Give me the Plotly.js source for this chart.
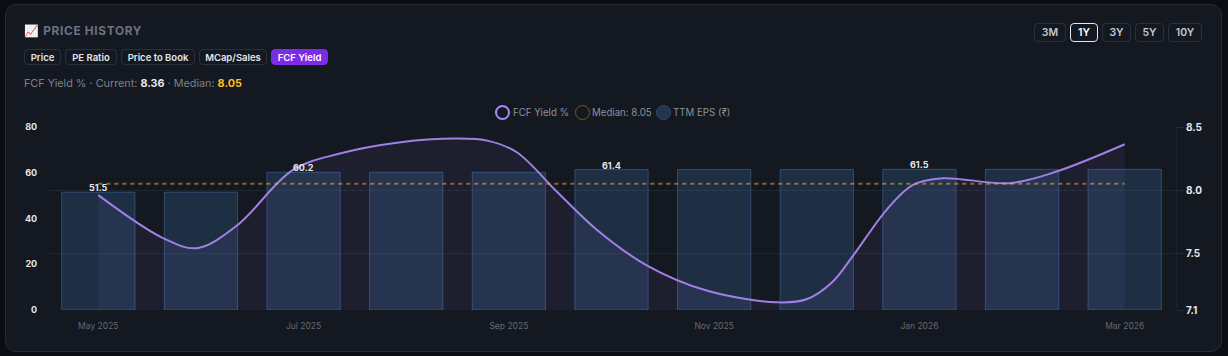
<!DOCTYPE html>
<html>
<head>
<meta charset="utf-8">
<script src="https://cdn.plot.ly/plotly-3.0.1.min.js"></script>
<style>
html,body{margin:0;padding:0;background:#0b0d14;width:1228px;height:356px;overflow:hidden;font-family:Inter,"Noto Sans",sans-serif;}
#card{position:absolute;left:5px;top:4px;width:1215px;height:346px;background:#141820;border:1px solid #262b36;border-radius:11px;}
#chart{position:absolute;left:0;top:0;width:1228px;height:356px;}
.t{position:absolute;white-space:nowrap;line-height:1;}
.btn{position:absolute;box-sizing:border-box;display:flex;align-items:center;justify-content:center;border:1px solid #2b303b;border-radius:4px;color:#e5e7eb;font-weight:600;white-space:nowrap;}
.tab{top:49px;height:16px;font-size:9.5px;}
.rng{top:23px;height:19px;font-size:10.5px;color:#c3c7cf;}
.dot{position:absolute;box-sizing:border-box;border-radius:50%;width:15px;height:15px;top:105px;}
.lg{position:absolute;top:107px;font-size:9.7px;line-height:11px;color:#8b919c;white-space:nowrap;}
</style>
</head>
<body>
<div id="card"></div>
<div id="chart"></div>
<div class="t" style="left:24px;top:26px;font-size:11.8px;font-weight:700;letter-spacing:.7px;color:#6b7280;">📈 PRICE HISTORY</div>
<div id="tabs"></div>
<div class="t" style="left:24px;top:78.5px;font-size:10.8px;color:#7b818c;">FCF Yield % · Current: <b style="color:#e5e7eb">8.36</b> · Median: <b style="color:#fbbf24">8.05</b></div>
<div id="ranges"></div>
<div class="dot" style="left:495px;border:2px solid #a78bfa"></div>
<div class="lg" style="left:513px">FCF Yield %</div>
<div class="dot" style="left:574.5px;border:1.5px solid #7a5c22"></div>
<div class="lg" style="left:592px">Median: 8.05</div>
<div class="dot" style="left:655.5px;border:1.5px solid #2f4a6e;background:#233650"></div>
<div class="lg" style="left:673px">TTM EPS (₹)</div>
<script>
const monthIndex = [0,1,2,3,4,5,6,7,8,9,10];
const epsValues = [51.5,51.5,60.2,60.2,60.2,61.4,61.4,61.4,61.5,61.5,61.5];
const epsLabels = ['51.5','','60.2','','','61.4','','','61.5','',''];
const xTickVals = [0,2,4,6,8,10];
const xTickText = ['May 2025','Jul 2025','Sep 2025','Nov 2025','Jan 2026','Mar 2026'];
const yieldX = [0,.63,.961,1.351,1.896,2.353,2.908,3.492,3.8,4.077,4.466,4.856,5.343,5.927,6.609,6.9,7.15,7.349,7.68,7.933,8.226,8.878,9.336,10];
const yieldY = [7.96,7.62,7.54,7.72,8.16,8.29,8.376,8.408,8.39,8.30,7.989,7.686,7.404,7.204,7.111,7.135,7.27,7.475,7.844,8.04,8.094,8.055,8.147,8.363];
const medianValue = 8.05;
const medianX = [0,10];
const leftTicks = [0,20,40,60,80];
const rightTicks = [7.05,7.5,8,8.5];
const rightTickText = ['7.1','7.5','8.0','8.5'];
const tabs = [['Price',24,37],['PE Ratio',65,52],['Price to Book',121,74],['MCap/Sales',199,68],['FCF Yield',271,57]];
const ranges = [['3M',1034,32],['1Y',1070,28],['3Y',1102,29],['5Y',1135,29],['10Y',1168,34]];

tabs.forEach(([s,x,w])=>{const d=document.createElement('div');d.className='btn tab';d.textContent=s;d.style.left=x+'px';d.style.width=w+'px';
  if(s==='FCF Yield'){d.style.background='#7c2be8';d.style.borderColor='#7c2be8';d.style.color='#fff';}
  document.getElementById('tabs').appendChild(d);});
ranges.forEach(([s,x,w])=>{const d=document.createElement('div');d.className='btn rng';d.textContent=s;d.style.left=x+'px';d.style.width=w+'px';
  if(s==='1Y'){d.style.borderColor='#e5e7eb';d.style.color='#fff';}
  document.getElementById('ranges').appendChild(d);});

const traces = [
 {type:'bar',x:monthIndex,y:epsValues,width:.714,yaxis:'y',
  marker:{color:'rgba(70,130,190,0.22)',line:{color:'rgba(80,130,200,0.42)',width:1}},
  hoverinfo:'skip',showlegend:false},
 {type:'scatter',mode:'lines',x:yieldX,y:yieldY,yaxis:'y2',
  line:{color:'#a07fe6',width:2,shape:'spline',smoothing:1},
  fill:'tozeroy',fillcolor:'rgba(167,139,250,0.065)',hoverinfo:'skip',showlegend:false},
 {type:'scatter',mode:'lines',x:medianX,y:[medianValue,medianValue],yaxis:'y2',
  line:{color:'rgba(245,185,50,0.5)',width:2,dash:'4px,4px'},hoverinfo:'skip',showlegend:false}
];
const barNotes = monthIndex.filter(i=>epsLabels[i]).map(i=>({x:i,y:epsValues[i],xref:'x',yref:'y',text:epsLabels[i],showarrow:false,
  yanchor:'bottom',yshift:-3,font:{family:'Inter',size:9,color:'#e5e7eb',weight:700}}));
const layout = {
 width:1228,height:356,paper_bgcolor:'rgba(0,0,0,0)',plot_bgcolor:'rgba(0,0,0,0)',
 margin:{l:47,r:52,t:127,b:45.5},showlegend:false,bargap:.286,annotations:barNotes,
 font:{family:'Inter',color:'#8b919c'},
 xaxis:{range:[-.5,10.5],tickmode:'array',tickvals:xTickVals,ticktext:xTickText,showgrid:false,zeroline:false,
   ticks:'outside',ticklen:8,tickcolor:'rgba(0,0,0,0)',tickfont:{size:8.5,color:'#646a75'},showline:false},
 yaxis:{range:[0,80],tickmode:'array',tickvals:leftTicks,showgrid:false,zeroline:false,showline:false,
   ticks:'outside',ticklen:7,tickcolor:'rgba(0,0,0,0)',tickfont:{size:9,color:'#e5e7eb',weight:700}},
 yaxis2:{range:[7.05,8.5],overlaying:'y',side:'right',tickmode:'array',tickvals:rightTicks,ticktext:rightTickText,
   showgrid:true,gridcolor:'#20252f',gridwidth:1,zeroline:false,showline:true,linecolor:'#1c212a',
   ticks:'outside',ticklen:7,tickcolor:'#272c36',tickfont:{size:10,color:'#e5e7eb',weight:700}}
};
Plotly.newPlot('chart',traces,layout,{displayModeBar:false,staticPlot:true});
</script>
</body>
</html>
